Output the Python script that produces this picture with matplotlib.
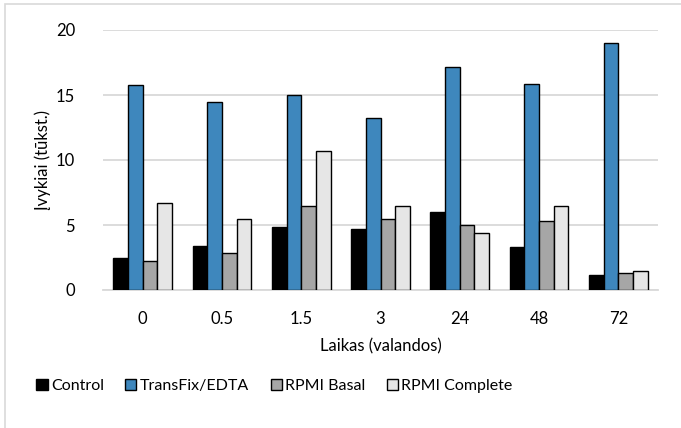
import numpy as np
import matplotlib.pyplot as plt
from matplotlib.patches import Rectangle

plt.rcParams['font.family'] = ['Lato', 'DejaVu Sans']

# duomenys
hours = ['0', '0.5', '1.5', '3', '24', '48', '72']
series = ['Control', 'TransFix/EDTA', 'RPMI Basal', 'RPMI Complete']
control = [2.5, 3.35, 4.87, 4.66, 6.02, 3.32, 1.18]
transfix = [15.75, 14.46, 14.98, 13.23, 17.12, 15.88, 18.97]
basal = [2.24, 2.88, 6.43, 5.5, 5.0, 5.33, 1.29]
complete = [6.7, 5.5, 10.73, 6.5, 4.4, 6.43, 1.44]
colors = ['#000000', '#3E87BD', '#A6A6A6', '#E6E6E6']

fig = plt.figure(figsize=(6.81, 4.28), dpi=100)
ax = fig.add_axes([103 / 681, 1 - 290 / 428, 555 / 681, 260 / 428])

# rėmelis
fig.patches.append(Rectangle((5 / 681, -0.1), 1.2, (1 - 4 / 428) + 0.1,
                             transform=fig.transFigure, fill=False,
                             edgecolor='#D9D9D9', lw=1.2))

x = np.arange(len(hours))
w = 0.185
for i, (vals, name) in enumerate(zip([control, transfix, basal, complete], series)):
    ax.bar(x + (i - 1.5) * w, vals, w, color=colors[i], edgecolor='black',
           linewidth=1.0, label=name, zorder=3)

ax.set_xlim(-0.5, len(hours) - 0.5)
ax.set_ylim(0, 20)
ax.set_yticks([0, 5, 10, 15, 20])
ax.set_xticks(x)
ax.set_xticklabels(hours)
ax.tick_params(length=0, labelsize=12)
ax.tick_params(axis='x', pad=15)
ax.tick_params(axis='y', pad=20)
ax.grid(axis='y', color='#D9D9D9', lw=1.3, zorder=0)
for s in ['top', 'right', 'left']:
    ax.spines[s].set_visible(False)
ax.spines['bottom'].set_color('#D9D9D9')
ax.spines['bottom'].set_linewidth(1.3)

ax.set_ylabel('Įvykiai (tūkst.)', fontsize=12)
ax.yaxis.set_label_coords(-52 / 555, 0.5)
ax.set_xlabel('Laikas (valandos)', fontsize=12, labelpad=8)

fig.legend(loc='center left', bbox_to_anchor=(22 / 681, 1 - 386 / 428), ncol=4,
           frameon=False, fontsize=11.5, handlelength=0.7, handleheight=0.75,
           handletextpad=0.2, columnspacing=1.35)

fig.savefig('out.png', dpi=100)
